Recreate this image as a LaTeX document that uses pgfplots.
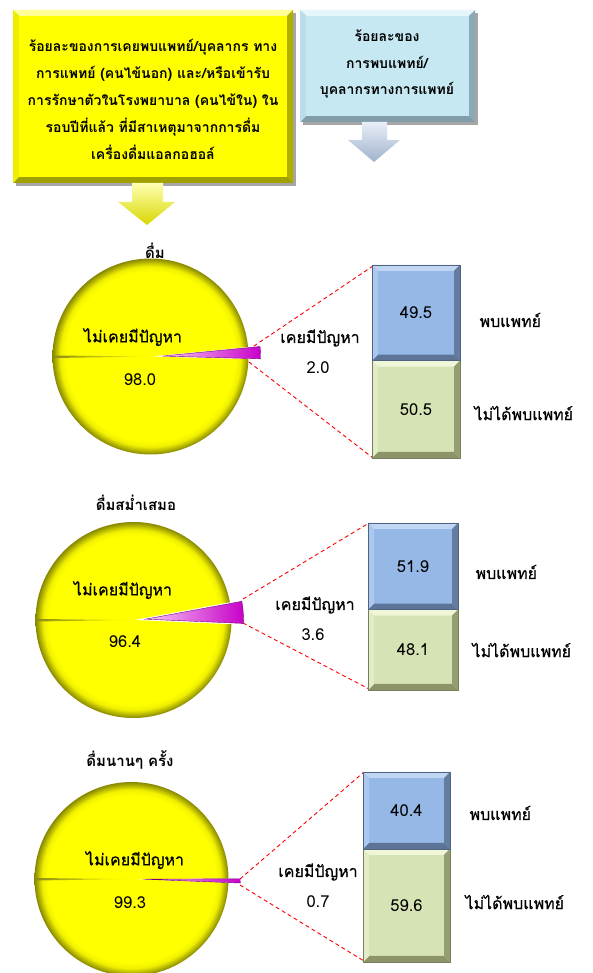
\documentclass[border=0pt]{standalone}
\usepackage{fontspec}
\setmainfont{Loma}[Script=Thai]
\newfontfamily\semibold{Loma}[Script=Thai, FakeBold=0.7]
\usepackage{pgfplots}
\pgfplotsset{compat=1.18}

% colours
\definecolor{pieY}{RGB}{255,255,0}
\definecolor{pieM}{RGB}{240,240,0}
\definecolor{pieD}{RGB}{135,135,0}
\definecolor{grvD}{RGB}{140,140,20}
\definecolor{wgL}{RGB}{245,200,245}
\definecolor{wgF}{RGB}{200,0,200}
% bars: face, top, left, right, bottom
\definecolor{bbF}{RGB}{150,184,230}
\definecolor{bbT}{RGB}{192,214,243}
\definecolor{bbL}{RGB}{172,200,238}
\definecolor{bbR}{RGB}{100,124,160}
\definecolor{bbB}{RGB}{92,116,152}
\definecolor{ggF}{RGB}{214,227,180}
\definecolor{ggT}{RGB}{240,246,216}
\definecolor{ggL}{RGB}{226,236,198}
\definecolor{ggR}{RGB}{148,158,112}
\definecolor{ggB}{RGB}{138,148,104}
% yellow box
\definecolor{ybF}{RGB}{255,255,0}
\definecolor{ybT}{RGB}{255,255,150}
\definecolor{ybL}{RGB}{238,238,0}
\definecolor{ybR}{RGB}{175,175,0}
\definecolor{ybB}{RGB}{160,160,0}
% blue box
\definecolor{lbF}{RGB}{198,232,243}
\definecolor{lbT}{RGB}{228,245,251}
\definecolor{lbL}{RGB}{186,221,233}
\definecolor{lbR}{RGB}{140,170,182}
\definecolor{lbB}{RGB}{128,158,170}

% the path's box is the central 50bp of the shading
\pgfdeclareradialshading{piebev}{\pgfpoint{0bp}{0bp}}{color(0bp)=(pieY); color(21.6bp)=(pieY); color(23bp)=(pieM); color(24.2bp)=(pieD!65!pieY); color(25bp)=(pieD); color(50bp)=(pieD)}

\tikzset{
  hdr/.style={font=\bfseries\fontsize{14}{27}\selectfont, align=center},
  lbl/.style={font=\semibold\fontsize{16}{18}\selectfont},
  num/.style={font=\fontsize{16.5}{18}\selectfont},
  ttl/.style={font=\bfseries\fontsize{15}{18}\selectfont},
  conn/.style={red, line width=0.9pt, dash pattern=on 4pt off 3pt},
}
\pgfplotsset{barbox/.style={scale only axis, anchor=south west, hide axis,
  clip=false, xmin=-0.5, xmax=0.5, ymin=0, ymax=100}}

% bevelled box, image coords: x1,y1,x2,y2, bevel, colour prefix
\newcommand{\bevbox}[6]{%
  \fill[black!35] (axis cs:{#1+3},{#2+3}) rectangle (axis cs:{#3+3},{#4+3});
  \fill[#6T] (axis cs:#1,#2) -- (axis cs:#3,#2) -- (axis cs:{#3-#5},{#2+#5}) -- (axis cs:{#1+#5},{#2+#5}) -- cycle;
  \fill[#6B] (axis cs:#1,#4) -- (axis cs:#3,#4) -- (axis cs:{#3-#5},{#4-#5}) -- (axis cs:{#1+#5},{#4-#5}) -- cycle;
  \fill[#6L] (axis cs:#1,#2) -- (axis cs:{#1+#5},{#2+#5}) -- (axis cs:{#1+#5},{#4-#5}) -- (axis cs:#1,#4) -- cycle;
  \fill[#6R] (axis cs:#3,#2) -- (axis cs:{#3-#5},{#2+#5}) -- (axis cs:{#3-#5},{#4-#5}) -- (axis cs:#3,#4) -- cycle;
  \fill[#6F] (axis cs:{#1+#5},{#2+#5}) rectangle (axis cs:{#3-#5},{#4-#5});
}

% big slice of a pie: cx, cy, r, small share (%), angle of small slice
\newcommand{\bigslice}[5]{%
  \begin{scope}
    \clip (axis cs:#1,#2) -- ++({#5+1.8*#4}:#3pt)
      arc[start angle={#5+1.8*#4}, end angle={#5+360-1.8*#4}, radius=#3pt] -- cycle;
    \shade[shading=piebev] (axis cs:#1,#2) circle[radius=#3pt];
    \shade[left color=grvD, right color=pieY] (axis cs:{#1-#3},{#2-1}) -- (axis cs:#1,#2) -- (axis cs:{#1-#3},{#2+1.5}) -- cycle;
  \end{scope}
}
% small slice, pulled out by 12pt
\newcommand{\smallslice}[5]{%
  \shade[left color=wgL, right color=wgF, draw=wgF!60!black, line width=0.4pt]
    (axis cs:{#1+12*cos(#5)},{#2-12*sin(#5)}) -- ++({#5+1.8*#4}:#3pt)
    arc[start angle={#5+1.8*#4}, end angle={#5-1.8*#4}, radius=#3pt] -- cycle;
}

% bevel of one bar segment (bar axis coords): y0, y1, colour prefix, depth
\newcommand{\segbev}[4]{%
  \fill[#3T] (axis cs:-0.5,#2) -- (axis cs:0.5,#2) -- ([shift={(-#4pt,-#4pt)}]axis cs:0.5,#2) -- ([shift={(#4pt,-#4pt)}]axis cs:-0.5,#2) -- cycle;
  \fill[#3B] (axis cs:-0.5,#1) -- (axis cs:0.5,#1) -- ([shift={(-#4pt,#4pt)}]axis cs:0.5,#1) -- ([shift={(#4pt,#4pt)}]axis cs:-0.5,#1) -- cycle;
  \fill[#3L] (axis cs:-0.5,#1) -- (axis cs:-0.5,#2) -- ([shift={(#4pt,-#4pt)}]axis cs:-0.5,#2) -- ([shift={(#4pt,#4pt)}]axis cs:-0.5,#1) -- cycle;
  \fill[#3R] (axis cs:0.5,#1) -- (axis cs:0.5,#2) -- ([shift={(-#4pt,-#4pt)}]axis cs:0.5,#2) -- ([shift={(-#4pt,#4pt)}]axis cs:0.5,#1) -- cycle;
  \draw[#3R!80!black, line width=0.5pt] (axis cs:-0.5,#1) rectangle (axis cs:0.5,#2);
}

% stacked bar: x, y (canvas, bottom), width, height, met doctor, did not
\newcommand{\stackbar}[6]{%
  \begin{axis}[barbox, at={(#1pt,#2pt)}, width=#3pt, height=#4pt,
    ybar stacked, bar width=#3pt]
    \addplot[fill=ggF, draw=none] coordinates {(0,#6)};
    \addplot[fill=bbF, draw=none] coordinates {(0,#5)};
  \end{axis}%
  % bevels and values over the bars
  \begin{axis}[barbox, at={(#1pt,#2pt)}, width=#3pt, height=#4pt]
    \segbev{0}{#6}{gg}{6}
    \segbev{#6}{100}{bb}{6}
    \node[num] at (axis cs:0,{#6/2}) {#6};
    \node[num] at (axis cs:0,{#6+#5/2}) {#5};
  \end{axis}%
}

\begin{document}
\begin{tikzpicture}
\begin{axis}[at={(0pt,0pt)}, anchor=south west, scale only axis,
  width=593pt, height=973pt, xmin=0, xmax=593, ymin=0, ymax=973,
  y dir=reverse, hide axis, clip=false]

  % header boxes
  \bevbox{13}{10}{293}{183}{6}{yb}
  \node[hdr] at (axis cs:153,99) {ร้อยละของการเคยพบแพทย์/บุคลากร ทาง\\การแพทย์ (คนไข้นอก) และ/หรือเข้ารับ\\การรักษาตัวในโรงพยาบาล (คนไข้ใน) ใน\\รอบปีที่แล้ว ที่มีสาเหตุมาจากการดื่ม\\เครื่องดื่มแอลกอฮอล์};
  \bevbox{300}{10}{475}{122}{6}{lb}
  \node[hdr, font=\bfseries\fontsize{14}{26.5}\selectfont] at (axis cs:387,64) {ร้อยละของ\\การพบแพทย์/\\บุคลากรทางการแพทย์};

  % arrows
  \shade[top color=yellow!30!white, bottom color={rgb,255:red,215;green,215;blue,0}]
    (axis cs:132,183) -- (axis cs:163,183) -- (axis cs:163,202) -- (axis cs:175,202)
    -- (axis cs:147,225) -- (axis cs:118,202) -- (axis cs:132,202) -- cycle;
  \shade[top color={rgb,255:red,232;green,238;blue,248}, bottom color={rgb,255:red,160;green,178;blue,205}]
    (axis cs:362,122) -- (axis cs:387,122) -- (axis cs:387,140) -- (axis cs:400,140)
    -- (axis cs:374,162) -- (axis cs:348,140) -- (axis cs:362,140) -- cycle;

  % pies
  \bigslice{150.5}{356.5}{98}{2.0}{2}
  \bigslice{133.5}{620}{98}{3.6}{4}
  \bigslice{131.5}{879}{97}{0.7}{-1}

  % connector lines
  \draw[conn] (axis cs:248,350) -- (axis cs:373,266);
  \draw[conn] (axis cs:249,362) -- (axis cs:373,458);
  \draw[conn] (axis cs:243,599) -- (axis cs:369,523);
  \draw[conn] (axis cs:243,623) -- (axis cs:369,689);
  \draw[conn] (axis cs:240,879) -- (axis cs:364,772);
  \draw[conn] (axis cs:240,885) -- (axis cs:364,961);

  \smallslice{150.5}{356.5}{98}{2.0}{2}
  \smallslice{133.5}{620}{98}{3.6}{4}
  \smallslice{131.5}{879}{97}{0.7}{-1}

  % pie titles and labels
  \node[ttl] at (axis cs:155,251) {ดื่ม};
  \node[ttl] at (axis cs:136,503) {ดื่มสม่ำเสมอ};
  \node[ttl] at (axis cs:130,760) {ดื่มนานๆ ครั้ง};

  \node[lbl] at (axis cs:133,337) {ไม่เคยมีปัญหา};
  \node[num] at (axis cs:140,380) {98.0};
  \node[lbl] at (axis cs:123,590) {ไม่เคยมีปัญหา};
  \node[num] at (axis cs:125,642) {96.4};
  \node[lbl] at (axis cs:135,860) {ไม่เคยมีปัญหา};
  \node[num] at (axis cs:130,903) {99.3};

  \node[lbl] at (axis cs:320,338) {เคยมีปัญหา};
  \node[num] at (axis cs:318,368) {2.0};
  \node[lbl] at (axis cs:315,605) {เคยมีปัญหา};
  \node[num] at (axis cs:313,635) {3.6};
  \node[lbl] at (axis cs:318,872) {เคยมีปัญหา};
  \node[num] at (axis cs:318,902) {0.7};

  % bar side labels
  \node[lbl, anchor=west] at (axis cs:476,320) {พบแพทย์};
  \node[lbl, anchor=west] at (axis cs:471,413) {ไม่ได้พบแพทย์};
  \node[lbl, anchor=west] at (axis cs:472,572) {พบแพทย์};
  \node[lbl, anchor=west] at (axis cs:469,650) {ไม่ได้พบแพทย์};
  \node[lbl, anchor=west] at (axis cs:466,813) {พบแพทย์};
  \node[lbl, anchor=west] at (axis cs:462,902) {ไม่ได้พบแพทย์};
\end{axis}

\stackbar{372}{515}{88}{193}{49.5}{50.5}
\stackbar{368}{283}{90}{167}{51.9}{48.1}
\stackbar{363}{11}{87}{190}{40.4}{59.6}

\pgfresetboundingbox
\path[use as bounding box] (0,0) rectangle (593pt,973pt);
\end{tikzpicture}
\end{document}
